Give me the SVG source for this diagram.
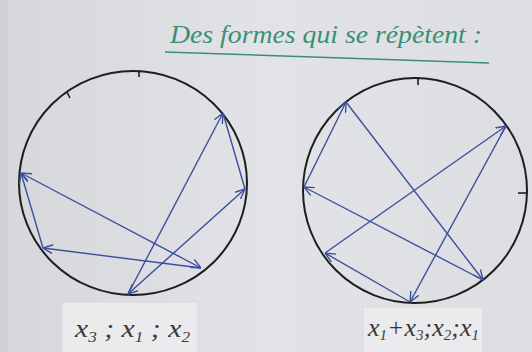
<svg xmlns="http://www.w3.org/2000/svg" width="532" height="352" viewBox="0 0 532 352">
<style>
.circ{fill:none;stroke:#1e1e1e;stroke-width:2}
.tick{stroke:#1e1e1e;stroke-width:1.6}
.arr{stroke:#3b4f9e;stroke-width:1.4;fill:none}
.title{font-family:"Liberation Serif",serif;font-style:italic;font-size:26px;fill:#3a8f78}
.lbl{font-family:"Liberation Serif",serif;font-style:italic;font-size:26px;fill:#3a3a3a}
.sub{font-size:15px}
.box{fill:#ebebed;stroke:#d8d8da;stroke-width:1}
</style>
<defs>
<linearGradient id="bg" x1="0" y1="0" x2="1" y2="0">
<stop offset="0" stop-color="#d6d7da"/>
<stop offset="0.5" stop-color="#e2e3e6"/>
<stop offset="1" stop-color="#dddee1"/>
</linearGradient>
<marker id="ah" viewBox="0 0 10 10" refX="10" refY="5" markerWidth="10" markerHeight="10" markerUnits="userSpaceOnUse" orient="auto-start-reverse">
<path d="M0,0.5 L10,5 L0,9.5" fill="none" stroke="#3b4f9e" stroke-width="1.4"/>
</marker>
</defs>
<rect width="532" height="352" fill="url(#bg)"/>
<rect x="0" y="0" width="8" height="352" fill="#cfd0d3"/>
<g id="title">
<text class="title" x="170" y="43" textLength="312" lengthAdjust="spacingAndGlyphs">Des formes qui se répètent :</text>
<path d="M165,52 L489,63" stroke="#3a8f78" stroke-width="1.5" fill="none"/>
</g>
<g id="circle-left">
<ellipse class="circ" cx="133" cy="183" rx="114" ry="112"/>
<line class="tick" x1="139" y1="70" x2="139" y2="77"/>
<line class="tick" x1="67" y1="92" x2="70" y2="98"/>
</g>
<g id="circle-right">
<ellipse class="circ" cx="415" cy="190.5" rx="112" ry="112.5"/>
<line class="tick" x1="418" y1="77" x2="418" y2="85"/>
<line class="tick" x1="518" y1="193" x2="527" y2="193"/>
</g>
<g id="connectors">
<line class="arr" x1="128" y1="294" x2="223" y2="113" marker-end="url(#ah)"/>
<line class="arr" x1="223" y1="113" x2="245" y2="189"/>
<line class="arr" x1="128" y1="294" x2="245" y2="189" marker-start="url(#ah)" marker-end="url(#ah)"/>
<line class="arr" x1="21" y1="173" x2="201" y2="268" marker-start="url(#ah)" marker-end="url(#ah)"/>
<line class="arr" x1="201" y1="268" x2="43" y2="248" marker-end="url(#ah)"/>
<line class="arr" x1="43" y1="248" x2="21" y2="173" marker-end="url(#ah)"/>
<line class="arr" x1="304" y1="187" x2="346" y2="102" marker-end="url(#ah)"/>
<line class="arr" x1="346" y1="102" x2="483" y2="280" marker-end="url(#ah)"/>
<line class="arr" x1="483" y1="280" x2="304" y2="187" marker-end="url(#ah)"/>
<line class="arr" x1="325" y1="253" x2="506" y2="126" marker-end="url(#ah)"/>
<line class="arr" x1="506" y1="126" x2="410" y2="302" marker-end="url(#ah)"/>
<line class="arr" x1="410" y1="302" x2="325" y2="253" marker-end="url(#ah)"/>
</g>
<g id="label-left">
<rect class="box" x="62" y="302" width="136" height="52"/>
<text class="lbl" x="75" y="337" textLength="115" lengthAdjust="spacingAndGlyphs">x<tspan class="sub" dy="5">3</tspan><tspan dy="-5"> ; x</tspan><tspan class="sub" dy="5">1</tspan><tspan dy="-5"> ; x</tspan><tspan class="sub" dy="5">2</tspan></text>
</g>
<g id="label-right">
<rect class="box" x="363" y="307" width="120" height="47"/>
<text class="lbl" x="368" y="336" textLength="111" lengthAdjust="spacingAndGlyphs">x<tspan class="sub" dy="4">1</tspan><tspan dy="-4">+x</tspan><tspan class="sub" dy="4">3</tspan><tspan dy="-4">;x</tspan><tspan class="sub" dy="4">2</tspan><tspan dy="-4">;x</tspan><tspan class="sub" dy="4">1</tspan></text>
</g>
</svg>
